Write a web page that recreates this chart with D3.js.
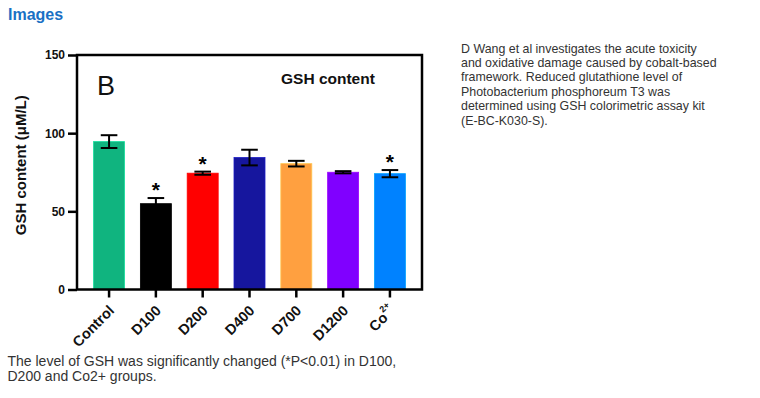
<!DOCTYPE html>
<html>
<head>
<meta charset="utf-8">
<script src="https://cdn.jsdelivr.net/npm/d3@7"></script>
<style>
  body { margin: 0; background: #fff; font-family: Arial, "Liberation Sans", sans-serif; }
</style>
</head>
<body>
<script>
// data
const groups = ["Control", "D100", "D200", "D400", "D700", "D1200", "Co2+"];
const means = [94.6, 54.9, 74.4, 84.4, 80.5, 75.0, 74.1];
const errors = [4.1, 3.6, 1.0, 5.0, 1.8, 0.7, 2.3];
const significant = [false, true, true, false, false, false, true];
const barColors = ["#10b47f", "#000000", "#ff0000", "#16169e", "#ffa040", "#8000ff", "#0082ff"];
const yTicks = [0, 50, 100, 150];

const sideText = [
  "D Wang et al investigates the acute toxicity",
  "and oxidative damage caused by cobalt-based",
  "framework. Reduced glutathione level of",
  "Photobacterium phosphoreum T3 was",
  "determined using GSH colorimetric assay kit",
  "(E-BC-K030-S)."
];
const caption = [
  "The level of GSH was significantly changed (*P<0.01) in D100,",
  "D200 and Co2+ groups."
];

const W = 760, H = 398;
const plot = { left: 77, right: 422, top: 55, bottom: 289.5 };

const svg = d3.select("body").append("svg")
  .attr("width", W).attr("height", H)
  .style("display", "block");

// header
svg.append("text")
  .attr("x", 8).attr("y", 20)
  .attr("font-size", 16).attr("font-weight", "bold")
  .attr("fill", "#1a70c4")
  .text("Images");

const x = d3.scaleBand()
  .domain(groups)
  .range([plot.left, plot.right])
  .paddingInner(0.338)
  .paddingOuter(0.354);

const y = d3.scaleLinear()
  .domain([0, 150])
  .range([plot.bottom, plot.top]);

// bars
svg.append("g").selectAll("rect")
  .data(groups)
  .join("rect")
  .attr("x", d => x(d))
  .attr("width", x.bandwidth())
  .attr("y", (d, i) => y(means[i]))
  .attr("height", (d, i) => y(0) - y(means[i]))
  .attr("fill", (d, i) => barColors[i])
  .attr("stroke", (d, i) => d3.color(barColors[i]).brighter(0.6))
  .attr("stroke-width", 0.8);

// error bars
const eb = svg.append("g").attr("stroke", "#000").attr("stroke-width", 2).attr("fill", "none");
groups.forEach((g, i) => {
  const cx = x(g) + x.bandwidth() / 2;
  const cap = 8.3;
  const lo = y(means[i] - errors[i]), hi = y(means[i] + errors[i]);
  eb.append("line").attr("x1", cx).attr("x2", cx).attr("y1", lo).attr("y2", hi);
  eb.append("line").attr("x1", cx - cap).attr("x2", cx + cap).attr("y1", hi).attr("y2", hi);
  eb.append("line").attr("x1", cx - cap).attr("x2", cx + cap).attr("y1", lo).attr("y2", lo);
});

// significance stars
svg.append("g").selectAll("text")
  .data(groups.filter((g, i) => significant[i]))
  .join("text")
  .attr("x", d => x(d) + x.bandwidth() / 2)
  .attr("y", d => { const i = groups.indexOf(d); return y(means[i] + errors[i]) - 1; })
  .attr("text-anchor", "middle")
  .attr("font-size", 21).attr("font-weight", "bold")
  .text("*");

// frame
svg.append("rect")
  .attr("x", plot.left).attr("y", plot.top)
  .attr("width", plot.right - plot.left).attr("height", plot.bottom - plot.top)
  .attr("fill", "none").attr("stroke", "#000").attr("stroke-width", 2.5);

// y axis
const yAxis = svg.append("g")
  .attr("transform", `translate(${plot.left},0)`)
  .call(d3.axisLeft(y).tickValues(yTicks).tickSize(9).tickPadding(3));
yAxis.select(".domain").remove();
yAxis.selectAll(".tick line").attr("stroke", "#000").attr("stroke-width", 2.5);
yAxis.selectAll(".tick text")
  .attr("font-family", "Arial, 'Liberation Sans', sans-serif")
  .attr("font-size", 12).attr("font-weight", "bold").attr("fill", "#111");

// x axis
const xAxis = svg.append("g")
  .attr("transform", `translate(0,${plot.bottom})`)
  .call(d3.axisBottom(x).tickSize(8).tickFormat(""));
xAxis.select(".domain").remove();
xAxis.selectAll(".tick line").attr("stroke", "#000").attr("stroke-width", 2.5);

const xl = svg.append("g")
  .attr("font-size", 14.5).attr("font-weight", "bold").attr("fill", "#111");
groups.forEach(g => {
  const cx = x(g) + x.bandwidth() / 2;
  const t = xl.append("text")
    .attr("transform", `translate(${cx + 6},${plot.bottom + 22}) rotate(-45)`)
    .attr("text-anchor", "end");
  if (g === "Co2+") {
    t.append("tspan").text("Co");
    t.append("tspan").attr("font-size", 9).attr("dy", -8).text("2+");
  } else {
    t.text(g);
  }
});

// y label
svg.append("text")
  .attr("transform", `translate(26,${(plot.top + plot.bottom) / 2 - 7}) rotate(-90)`)
  .attr("text-anchor", "middle")
  .attr("font-size", 15).attr("font-weight", "bold").attr("fill", "#111")
  .text("GSH content (μM/L)");

// panel letter and title
svg.append("text")
  .attr("x", 97).attr("y", 95)
  .attr("font-size", 27).attr("fill", "#111")
  .text("B");
svg.append("text")
  .attr("x", 281).attr("y", 84)
  .attr("font-size", 15.5).attr("font-weight", "bold").attr("fill", "#111")
  .text("GSH content");

// side paragraph
svg.append("g")
  .attr("font-size", 12.4).attr("fill", "#333")
  .selectAll("text")
  .data(sideText)
  .join("text")
  .attr("x", 461)
  .attr("y", (d, i) => 52.5 + i * 14.4)
  .text(d => d);

// caption
svg.append("g")
  .attr("font-size", 14).attr("fill", "#333")
  .selectAll("text")
  .data(caption)
  .join("text")
  .attr("x", 7.5)
  .attr("y", (d, i) => 365.5 + i * 15.5)
  .text(d => d);
</script>
</body>
</html>
